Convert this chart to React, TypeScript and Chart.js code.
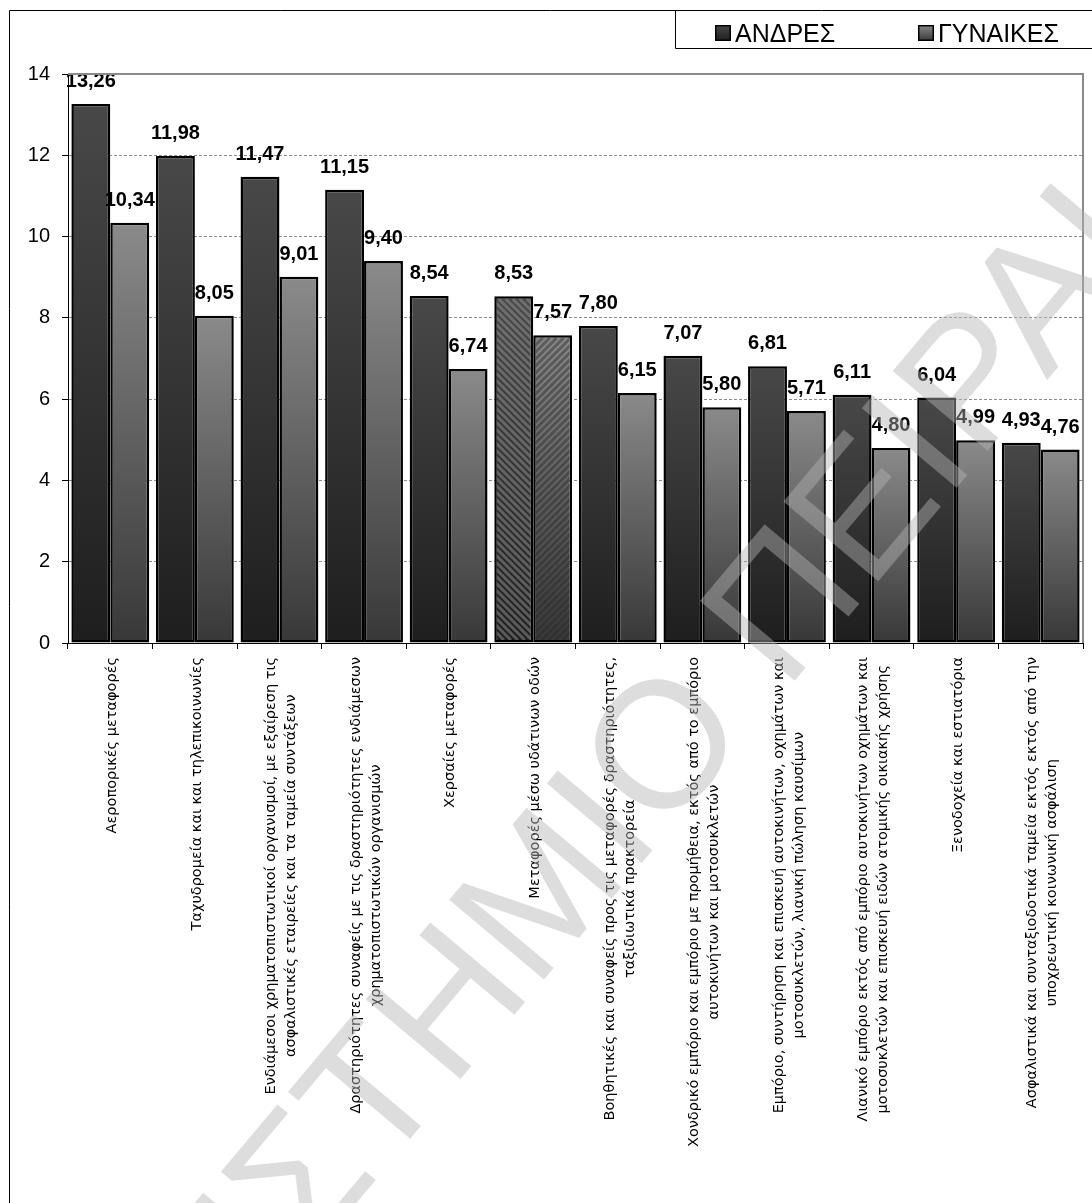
import React, { useEffect, useRef } from "react";
import { Chart, registerables } from "chart.js";

Chart.register(...registerables);

// Economic activity sectors (multi-line axis labels)
const categories: string[][] = [
  ["Αεροπορικές μεταφορές"],
  ["Ταχυδρομεία και και τηλεπικοινωνίες"],
  ["Ενδιάμεσοι χρηματοπιστωτικοί οργανισμοί, με εξαίρεση τις", "ασφαλιστικές εταιρείες και τα ταμεία συντάξεων"],
  ["Δραστηριότητες συναφείς με τις δραστηριότητες ενδιάμεσων", "χρηματοπιστωτικών οργανισμών"],
  ["Χερσαίες μεταφορές"],
  ["Μεταφορές μέσω υδάτινων οδών"],
  ["Βοηθητικές και συναφείς προς τις μεταφορές δραστηριότητες,", "ταξιδιωτικά πρακτορεία"],
  ["Χονδρικό εμπόριο και εμπόριο με προμήθεια, εκτός από το εμπόριο", "αυτοκινήτων και μοτοσυκλετών"],
  ["Εμπόριο, συντήρηση και επισκευή αυτοκινήτων, οχημάτων και", "μοτοσυκλετών, λιανική πώληση καυσίμων"],
  ["Λιανικό εμπόριο εκτός από εμπόριο αυτοκινήτων οχημάτων και", "μοτοσυκλετών και επισκευή ειδών ατομικής οικιακής χρήσης"],
  ["Ξενοδοχεία και εστιατόρια"],
  ["Ασφαλιστικά και συνταξιοδοτικά ταμεία εκτός εκτός από την", "υποχρεωτική κοινωνική ασφάλιση"],
];

const menValues: number[] = [13.26, 11.98, 11.47, 11.15, 8.54, 8.53, 7.8, 7.07, 6.81, 6.11, 6.04, 4.93];
const womenValues: number[] = [10.34, 8.05, 9.01, 9.4, 6.74, 7.57, 6.15, 5.8, 5.71, 4.8, 4.99, 4.76];

const seriesNames: string[] = ["ΑΝΔΡΕΣ", "ΓΥΝΑΙΚΕΣ"];

const yMin = 0;
const yMax = 14;
const yStep = 2;

// Sector whose bars are drawn with a hatched fill
const hatchedIndex = 5;

const watermarkText = "ΠΑΝΕΠΙΣΤΗΜΙΟ ΠΕΙΡΑΙΑ";

const W = 1092;
const H = 1203;
const PLOT_LEFT = 68;
const PLOT_TOP = 74;
const PLOT_RIGHT_PAD = 9;
const X_AXIS_HEIGHT = 560;

const ARIAL = '"Liberation Sans", Arial, sans-serif';
const LABEL_FONT = '"DejaVu Sans", sans-serif';

const menStops: [string, string] = ["#484848", "#1e1e1e"];
const womenStops: [string, string] = ["#8a8a8a", "#383838"];

const fmt = (v: number) => v.toFixed(2).replace(".", ",");

function barGradient(stops: [string, string]) {
  return (c: any) => {
    const chart = c.chart;
    const y = chart.scales?.y;
    if (!chart.chartArea || !y || c.type !== "data") return stops[0];
    const top = y.getPixelForValue(c.raw);
    const bottom = y.getPixelForValue(0);
    const g = chart.ctx.createLinearGradient(0, top, 0, bottom);
    g.addColorStop(0, stops[0]);
    g.addColorStop(1, stops[1]);
    return g;
  };
}

const decorPlugin = {
  id: "decor",
  afterDatasetsDraw(chart: any) {
    const ctx: CanvasRenderingContext2D = chart.ctx;

    // hatched fill over the selected sector's bars
    chart.data.datasets.forEach((_ds: any, di: number) => {
      const bar = chart.getDatasetMeta(di).data[hatchedIndex];
      if (!bar) return;
      const { x, y, base, width } = bar.getProps(["x", "y", "base", "width"], true);
      const l = x - width / 2 + 2.5;
      const t = y + 2.5;
      const w = width - 5;
      const h = base - y - 5;
      ctx.save();
      ctx.beginPath();
      ctx.rect(l, t, w, h);
      ctx.clip();
      ctx.lineWidth = 3;
      ctx.strokeStyle = di === 0 ? "rgba(150,150,150,0.5)" : "rgba(40,40,40,0.45)";
      const step = 7;
      for (let k = -h; k < w + h; k += step) {
        ctx.beginPath();
        if (di === 0) {
          ctx.moveTo(l + k, t);
          ctx.lineTo(l + k + h, t + h);
        } else {
          ctx.moveTo(l + k, t + h);
          ctx.lineTo(l + k + h, t);
        }
        ctx.stroke();
      }
      ctx.restore();
    });

    // value labels above bars
    ctx.save();
    ctx.font = `bold 20px ${ARIAL}`;
    ctx.fillStyle = "#000";
    ctx.textAlign = "center";
    ctx.textBaseline = "alphabetic";
    chart.data.datasets.forEach((ds: any, di: number) => {
      chart.getDatasetMeta(di).data.forEach((bar: any, i: number) => {
        const { x, y } = bar.getProps(["x", "y"], true);
        ctx.fillText(fmt(ds.data[i]), x, y - 17);
      });
    });
    ctx.restore();
  },
  afterDraw(chart: any) {
    const ctx: CanvasRenderingContext2D = chart.ctx;
    const area = chart.chartArea;

    // plot area frame (top and right)
    ctx.save();
    ctx.strokeStyle = "#8a8a8a";
    ctx.lineWidth = 2;
    ctx.beginPath();
    ctx.moveTo(area.left, area.top);
    ctx.lineTo(area.right, area.top);
    ctx.lineTo(area.right, area.bottom);
    ctx.stroke();
    ctx.restore();

    // category labels, rotated, lines centred on each other
    const xs = chart.scales.x;
    ctx.save();
    ctx.font = `14.5px ${LABEL_FONT}`;
    ctx.fillStyle = "#000";
    ctx.textAlign = "center";
    ctx.textBaseline = "middle";
    const lineH = 20;
    const labelTop = area.bottom + 14;
    categories.forEach((lines, i) => {
      const cx = xs.getPixelForValue(i) + 2;
      const maxW = Math.max(...lines.map((s) => ctx.measureText(s).width));
      ctx.save();
      ctx.translate(cx, labelTop);
      ctx.rotate(-Math.PI / 2);
      lines.forEach((s, k) => {
        ctx.fillText(s, -maxW / 2, (k - (lines.length - 1) / 2) * lineH);
      });
      ctx.restore();
    });
    ctx.restore();

    // outer chart frame and legend box
    ctx.save();
    ctx.strokeStyle = "#000";
    ctx.lineWidth = 1;
    ctx.beginPath();
    ctx.moveTo(9.5, H);
    ctx.lineTo(9.5, 10.5);
    ctx.lineTo(W, 10.5);
    ctx.stroke();
    ctx.beginPath();
    ctx.moveTo(675.5, 10.5);
    ctx.lineTo(675.5, 48.5);
    ctx.lineTo(W, 48.5);
    ctx.stroke();

    const legendItems = [
      { x: 715, stops: menStops, text: seriesNames[0] },
      { x: 918, stops: womenStops, text: seriesNames[1] },
    ];
    ctx.font = `25px ${ARIAL}`;
    ctx.textAlign = "left";
    ctx.textBaseline = "alphabetic";
    legendItems.forEach((it) => {
      const g = ctx.createLinearGradient(0, 25, 0, 41);
      g.addColorStop(0, it.stops[0]);
      g.addColorStop(1, it.stops[1]);
      ctx.fillStyle = g;
      ctx.fillRect(it.x, 25, 16, 16);
      ctx.lineWidth = 1.5;
      ctx.strokeStyle = "#000";
      ctx.strokeRect(it.x + 0.75, 25.75, 14.5, 14.5);
      ctx.fillStyle = "#000";
      ctx.fillText(it.text, it.x + 20, 42);
    });
    ctx.restore();

    // watermark
    ctx.save();
    const size = 180;
    ctx.font = `${size}px ${ARIAL}`;
    ctx.fillStyle = "rgba(180,180,180,0.45)";
    const idx = watermarkText.indexOf("Ο");
    const pre = ctx.measureText(watermarkText.slice(0, idx)).width + ctx.measureText("Ο").width / 2;
    ctx.translate(670, 752);
    ctx.rotate((-50 * Math.PI) / 180);
    ctx.textAlign = "left";
    ctx.textBaseline = "middle";
    ctx.fillText(watermarkText, -pre, 0);
    ctx.restore();
  },
};

export default function App() {
  const canvasRef = useRef<HTMLCanvasElement | null>(null);

  useEffect(() => {
    const canvas = canvasRef.current;
    if (!canvas) return;
    const chart = new Chart(canvas, {
      type: "bar",
      data: {
        labels: categories.map((c) => c.join(" ")),
        datasets: [
          {
            label: seriesNames[0],
            data: menValues,
            backgroundColor: barGradient(menStops),
            borderColor: "#000",
            borderWidth: 2.5,
            borderSkipped: false,
            categoryPercentage: 0.92,
            barPercentage: 1,
          },
          {
            label: seriesNames[1],
            data: womenValues,
            backgroundColor: barGradient(womenStops),
            borderColor: "#000",
            borderWidth: 2.5,
            borderSkipped: false,
            categoryPercentage: 0.92,
            barPercentage: 1,
          },
        ],
      },
      options: {
        responsive: false,
        animation: false,
        devicePixelRatio: 1,
        layout: { padding: { top: PLOT_TOP, right: PLOT_RIGHT_PAD, left: 0, bottom: 0 } },
        plugins: {
          legend: { display: false },
          tooltip: { enabled: false },
        },
        scales: {
          x: {
            ticks: { display: false },
            grid: {
              drawOnChartArea: false,
              drawTicks: true,
              tickLength: 6,
              tickColor: "#000",
              offset: true,
            },
            border: { display: true, color: "#000", width: 1 },
            afterFit: (s: any) => {
              s.height = X_AXIS_HEIGHT;
            },
          },
          y: {
            min: yMin,
            max: yMax,
            ticks: {
              stepSize: yStep,
              color: "#000",
              padding: 12,
              font: { family: ARIAL, size: 20 },
            },
            grid: {
              color: (c: any) =>
                c.tick && (c.tick.value === yMin || c.tick.value === yMax) ? "rgba(0,0,0,0)" : "#8c8c8c",
              lineWidth: 1,
              drawTicks: true,
              tickLength: 6,
              tickColor: "#000",
              tickBorderDash: [],
            },
            border: { display: true, color: "#000", width: 1, dash: [3, 2] },
            afterFit: (s: any) => {
              s.width = PLOT_LEFT;
            },
          },
        },
      },
      plugins: [decorPlugin],
    });
    return () => chart.destroy();
  }, []);

  return (
    <div style={{ position: "absolute", left: 0, top: 0, width: W, height: H, background: "#fff" }}>
      <canvas ref={canvasRef} width={W} height={H} style={{ display: "block" }} />
    </div>
  );
}
